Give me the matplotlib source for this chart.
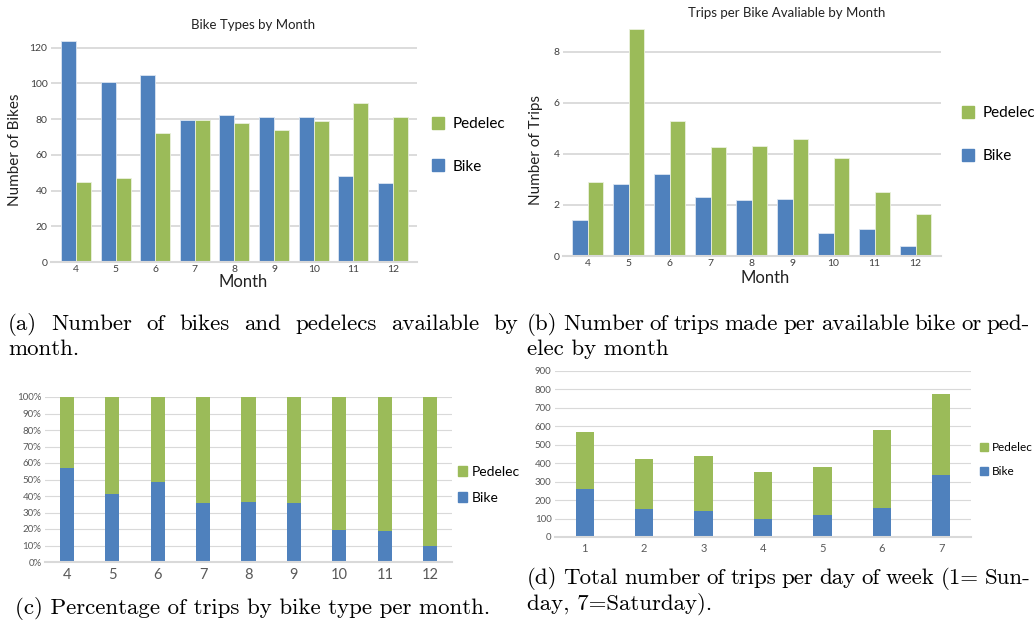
import matplotlib
matplotlib.use("Agg")
import matplotlib.pyplot as plt
from matplotlib.patches import Patch
from matplotlib.ticker import PercentFormatter

# data
months = ["4", "5", "6", "7", "8", "9", "10", "11", "12"]
bikes_avail = [124, 101, 105, 79.5, 82.5, 81, 81, 48, 44]
pedelecs_avail = [45, 47, 72, 79.5, 78, 74, 79, 89, 81]

trips_bike = [1.4, 2.8, 3.2, 2.3, 2.2, 2.25, 0.9, 1.05, 0.38]
trips_pedelec = [2.9, 8.9, 5.27, 4.25, 4.3, 4.57, 3.85, 2.52, 1.65]

pct_bike = [57, 41, 48.5, 35.5, 36.5, 36, 19.5, 18.5, 10]

days = ["1", "2", "3", "4", "5", "6", "7"]
day_bike = [260, 150, 140, 100, 117, 157, 335]
day_total = [570, 425, 437, 350, 380, 580, 773]

BLUE = "#4F81BD"
GREEN = "#9BBB59"
GRID = "#D9D9D9"
TXT = "#404040"
SANS = "Lato"

W, H = 1034, 622
fig = plt.figure(figsize=(W / 100, H / 100), dpi=100)


def px_axes(l, t, r, b):
    return fig.add_axes([l / W, 1 - b / H, (r - l) / W, (b - t) / H])


def style(ax, size):
    for s in ["top", "right", "left"]:
        ax.spines[s].set_visible(False)
    ax.spines["bottom"].set_color(GRID)
    ax.spines["bottom"].set_linewidth(1.5)
    ax.grid(axis="y", color=GRID, lw=1.3)
    ax.set_axisbelow(True)
    ax.tick_params(length=0, pad=2.5, labelsize=size, colors=TXT, labelfontfamily=SANS)


def legend(x, y, size, spacing, hl=0.8, pad=0.55):
    fig.legend(handles=[Patch(color=GREEN, label="Pedelec"), Patch(color=BLUE, label="Bike")],
               loc="upper left", bbox_to_anchor=(x / W, 1 - y / H), frameon=False,
               prop={"family": SANS, "size": size}, labelspacing=spacing,
               handlelength=hl, handleheight=hl, handletextpad=pad,
               borderpad=0, borderaxespad=0)


def justify(words, x0, x1, y, size):
    r = fig.canvas.get_renderer()
    ts = [fig.text(0, 1 - y / H, w, family="cmr10", size=size, va="baseline") for w in words]
    widths = [t.get_window_extent(r).width for t in ts]
    gap = (x1 - x0 - sum(widths)) / (len(words) - 1)
    x = x0
    for t, w in zip(ts, widths):
        t.set_x(x / W)
        x += w + gap


x = range(len(months))
bw = 0.38

# (a) bikes available
ax = px_axes(51, 37, 417, 262)
ax.bar([i - bw / 2 for i in x], bikes_avail, bw, color=BLUE, edgecolor="#DCE6F2", lw=0.6)
ax.bar([i + bw / 2 for i in x], pedelecs_avail, bw, color=GREEN, edgecolor="#EBF1DE", lw=0.6)
ax.set_xlim(-0.63, 8.61)
ax.set_ylim(0, 126)
ax.set_yticks(range(0, 121, 20))
ax.set_xticks(list(x), months)
style(ax, 7.5)
fig.text(253 / W, 1 - 25 / H, "Bike Types by Month", family=SANS, size=9.5, ha="center", va="center", color="#222222")
fig.text(15 / W, 1 - 150 / H, "Number of Bikes", family=SANS, size=11, rotation=90, ha="center", va="center", color="#222222")
fig.text(243 / W, 1 - 282 / H, "Month", family=SANS, size=12, ha="center", va="center", color="#222222")
legend(432, 117, 11, 1.85)

# (b) trips per bike
ax = px_axes(563, 26, 941, 256)
ax.bar([i - bw / 2 for i in x], trips_bike, bw, color=BLUE, edgecolor="#DCE6F2", lw=0.6)
ax.bar([i + bw / 2 for i in x], trips_pedelec, bw, color=GREEN, edgecolor="#EBF1DE", lw=0.6)
ax.set_xlim(-0.6, 8.62)
ax.set_ylim(0, 9.0)
ax.set_yticks(range(0, 9, 2))
ax.set_xticks(list(x), months)
style(ax, 7.5)
fig.text(787 / W, 1 - 13 / H, "Trips per Bike Avaliable by Month", family=SANS, size=9.5, ha="center", va="center", color="#222222")
fig.text(536 / W, 1 - 150 / H, "Number of Trips", family=SANS, size=11, rotation=90, ha="center", va="center", color="#222222")
fig.text(765 / W, 1 - 278 / H, "Month", family=SANS, size=12, ha="center", va="center", color="#222222")
legend(962, 106, 11, 1.9)

# (c) percentage by type
ax = px_axes(45, 397, 452, 562)
pct_ped = [100 - p for p in pct_bike]
ax.bar(list(x), pct_bike, 0.31, color=BLUE)
ax.bar(list(x), pct_ped, 0.31, bottom=pct_bike, color=GREEN)
ax.set_xlim(-0.48, 8.48)
ax.set_ylim(0, 100)
ax.set_yticks(range(0, 101, 10))
ax.yaxis.set_major_formatter(PercentFormatter(decimals=0))
ax.set_xticks(list(x), months)
style(ax, 7)
ax.grid(axis="y", color=GRID, lw=0.8)
ax.tick_params(axis="x", labelsize=10.5, colors="#595959", pad=4)
ax.tick_params(axis="y", colors="#595959")
legend(458, 466, 10, 1.0, hl=0.65, pad=0.35)

# (d) trips per weekday
ax = px_axes(555, 371, 971, 537)
xd = range(len(days))
day_ped = [t - b for t, b in zip(day_total, day_bike)]
ax.bar(list(xd), day_bike, 0.31, color=BLUE)
ax.bar(list(xd), day_ped, 0.31, bottom=day_bike, color=GREEN)
ax.set_xlim(-0.5, 6.5)
ax.set_ylim(0, 900)
ax.set_yticks(range(0, 901, 100))
ax.set_xticks(list(xd), days)
style(ax, 7)
ax.grid(axis="y", color=GRID, lw=0.8)
ax.tick_params(colors="#595959")
ax.tick_params(axis="x", labelsize=8, pad=4)
legend(980, 442, 8.5, 1.1, hl=0.7, pad=0.3)

# captions
CS = 16.5
justify("(a) Number of bikes and pedelecs available by".split(" "), 8, 518, 330, CS)
fig.text(8 / W, 1 - 355 / H, "month.", family="cmr10", size=CS, va="baseline")
justify("(b) Number of trips made per available bike or ped-".split(" "), 527, 1030, 330, CS)
fig.text(527 / W, 1 - 355 / H, "elec by month", family="cmr10", size=CS, va="baseline")
fig.text(253 / W, 1 - 614 / H, "(c) Percentage of trips by bike type per month.", family="cmr10", size=CS, va="baseline", ha="center")
justify("(d) Total number of trips per day of week (1= Sun-".split(" "), 527, 1030, 584, CS)
fig.text(527 / W, 1 - 610 / H, "day, 7=Saturday).", family="cmr10", size=CS, va="baseline")

fig.savefig("out.png", dpi=100)
